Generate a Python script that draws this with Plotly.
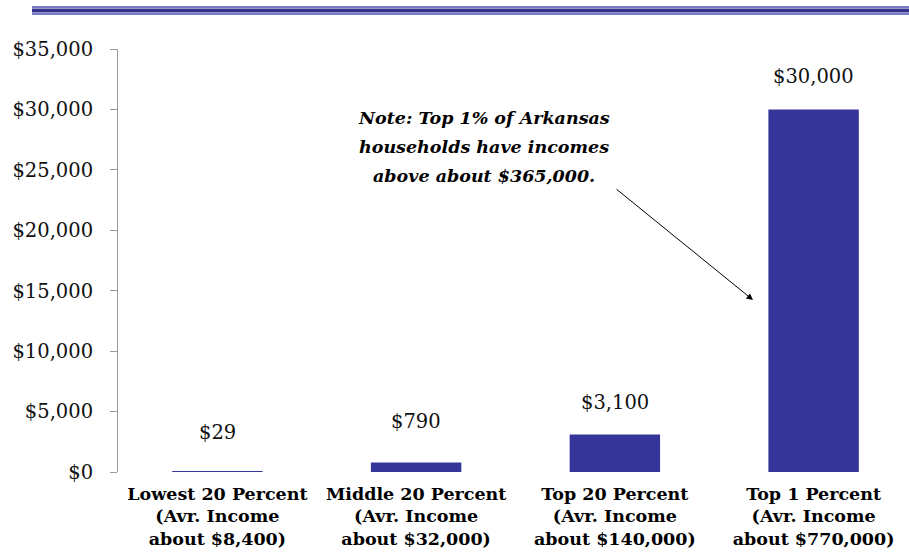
import plotly.graph_objects as go

categories = [
    "Lowest 20 Percent<br>(Avr. Income<br>about $8,400)",
    "Middle 20 Percent<br>(Avr. Income<br>about $32,000)",
    "Top 20 Percent<br>(Avr. Income<br>about $140,000)",
    "Top 1 Percent<br>(Avr. Income<br>about $770,000)",
]
values = [29, 790, 3100, 30000]
value_labels = ["$29", "$790", "$3,100", "$30,000"]
label_shift = [26, 27, 19, 19]

tick_vals = [0, 5000, 10000, 15000, 20000, 25000, 30000, 35000]
tick_text = ["$0", "$5,000", "$10,000", "$15,000", "$20,000", "$25,000", "$30,000", "$35,000"]

note_lines = ["Note: Top 1% of Arkansas", "households have incomes",
              "above about $365,000."]

W, H = 909, 556
L, R, T, B = 118, 0, 49, 84
PW, PH = W - L - R, H - T - B

BAR = "#35359a"
FONT = "DejaVu Serif"

fig = go.Figure()
fig.add_trace(go.Bar(
    x=list(range(len(values))), y=values,
    marker=dict(color=BAR, line=dict(width=0)),
    width=0.455,
))

for i, (v, t, s) in enumerate(zip(values, value_labels, label_shift)):
    fig.add_annotation(x=i, y=v, text=t, showarrow=False, yanchor="bottom",
                       yshift=s, font=dict(family=FONT, size=19.5, color="#111"))

def px_to_paper_x(px):
    return (px - L) / PW

def px_to_paper_y(py):
    return (H - B - py) / PH

# note + arrow
for line, ypx in zip(note_lines, [118, 147, 176]):
    fig.add_annotation(xref="paper", yref="paper",
                       x=px_to_paper_x(484), y=px_to_paper_y(ypx),
                       xanchor="center", yanchor="middle",
                       text="<b><i>" + line + "</i></b>", showarrow=False,
                       font=dict(family=FONT, size=17.5, color="#000"))
fig.add_annotation(xref="paper", yref="paper", axref="pixel", ayref="pixel",
                   x=px_to_paper_x(753), y=px_to_paper_y(300),
                   ax=615 - 753, ay=188 - 300,
                   text="", showarrow=True, arrowhead=2, arrowsize=1.3,
                   arrowwidth=1, arrowcolor="#000")

# decorative header lines
for ypx, w, c in [(7, 2, "#7a7ac8"), (10.5, 4, "#33338f"), (14, 2, "#7a7ac8")]:
    fig.add_shape(type="line", xref="paper", yref="paper",
                  x0=px_to_paper_x(32), x1=px_to_paper_x(909),
                  y0=px_to_paper_y(ypx), y1=px_to_paper_y(ypx),
                  line=dict(color=c, width=w))

fig.update_layout(
    width=W, height=H,
    margin=dict(l=L, r=R, t=T, b=B),
    paper_bgcolor="white", plot_bgcolor="white",
    showlegend=False,
    font=dict(family=FONT, color="#000"),
)
fig.update_xaxes(
    tickmode="array", tickvals=list(range(len(categories))), ticktext=categories,
    range=[-0.5, 3.48], showline=False, ticks="", showgrid=False,
    tickfont=dict(family=FONT, size=17.5, color="#000", weight="bold"),
    zeroline=False, ticklabelstandoff=9,
)
fig.update_yaxes(
    range=[0, 35000], tickmode="array", tickvals=tick_vals, ticktext=tick_text,
    showline=True, linecolor="#9a9a9a", linewidth=1,
    ticks="outside", ticklen=7, tickcolor="#9a9a9a",
    showgrid=False, zeroline=False,
    tickfont=dict(family=FONT, size=19.5, color="#111"),
    ticklabelstandoff=13,
)

fig.write_html("out.html")
